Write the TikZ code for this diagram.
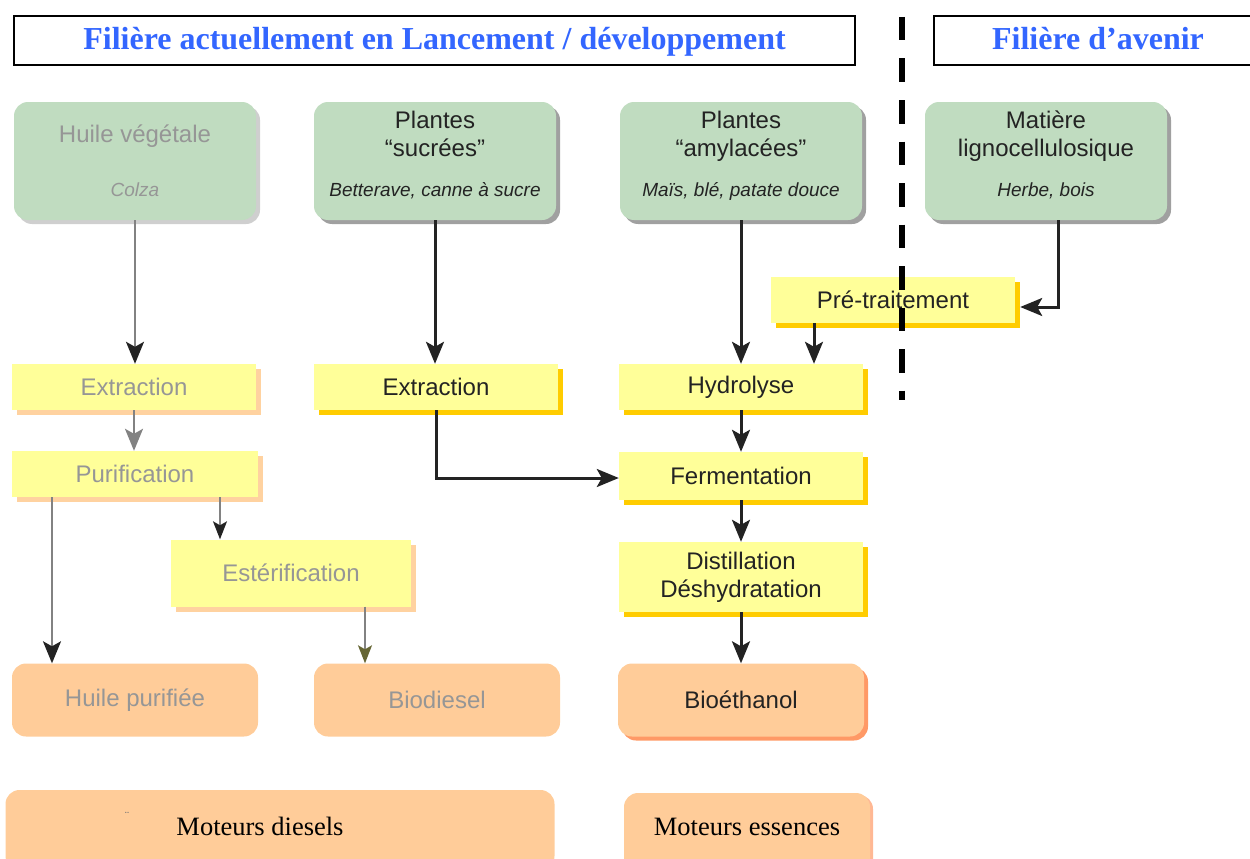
\documentclass[tikz,border=0pt]{standalone}
\usepackage{fontspec}
\setmainfont{Liberation Serif}
\setsansfont{Liberation Sans}
\usetikzlibrary{arrows.meta,shadows}
\definecolor{vert}{RGB}{192,220,192}
\definecolor{jaune}{RGB}{255,255,153}
\definecolor{peche}{RGB}{255,204,153}
\definecolor{ombreor}{RGB}{255,204,0}
\definecolor{ombrepale}{RGB}{255,210,160}
\definecolor{ombrepeche}{RGB}{255,153,102}
\definecolor{ombregrise}{RGB}{160,160,160}
\definecolor{bleutitre}{RGB}{51,102,255}
\definecolor{gristexte}{RGB}{150,150,150}
\definecolor{gristrait}{RGB}{130,130,130}
\definecolor{texte}{RGB}{35,35,35}
\definecolor{pointeolive}{RGB}{102,102,51}
\tikzset{
  boite/.style={align=center, text=texte, inner sep=2pt,
    font=\sffamily\fontsize{24}{28}\selectfont},
  plantebase/.style={boite, rounded corners=14pt, fill=vert,
    minimum width=242pt, minimum height=118pt},
  plante/.style={plantebase, text depth=14pt,
    drop shadow={shadow xshift=4pt,shadow yshift=-4pt,fill=ombregrise,opacity=1}},
  plantegrise/.style={plantebase, text=gristexte,
    drop shadow={shadow xshift=4pt,shadow yshift=-4pt,fill=ombregrise!50,opacity=1}},
  etapebase/.style={boite, fill=jaune, minimum width=244pt, minimum height=46pt},
  etape/.style={etapebase,
    drop shadow={shadow xshift=5pt,shadow yshift=-5pt,fill=ombreor,opacity=1}},
  etapegrise/.style={etapebase, text=gristexte,
    drop shadow={shadow xshift=5pt,shadow yshift=-5pt,fill=ombrepale,opacity=1}},
  produit/.style={boite, rounded corners=14pt, fill=peche,
    minimum width=246pt, minimum height=73pt},
  moteur/.style={produit, font=\fontsize{26.5}{28}\selectfont, text=black},
  titre/.style={draw=black, line width=1.6pt, minimum height=49pt,
    text height=24pt, text depth=5pt,
    font=\bfseries\fontsize{32}{34}\selectfont, text=bleutitre},
  fleche/.style={-{Stealth[length=22pt,width=18pt,inset=5pt]}, line width=3pt, draw=texte},
  flechegrise/.style={-{Stealth[length=22pt,width=18pt,inset=5pt,color=texte]},
    line width=2.2pt, draw=gristrait}
}
\begin{document}
\begin{tikzpicture}[x=1pt,y=-1pt]
	\useasboundingbox (0,0) rectangle (1250,859);
	\node[titre, minimum width=841pt] (titreA) at (434.5,40.5) {Filière actuellement en Lancement / développement};
	\node[titre, minimum width=328pt] (titreB) at (1098,40.5) {Filière d’avenir};

	\node[plantegrise] (huile) at (135,161) {Huile végétale\\[26pt]{\itshape\fontsize{19}{22}\selectfont Colza}};
	\node[plante] (sucre) at (435,161) {Plantes\\“sucrées”\\[12pt]{\itshape\fontsize{19}{22}\selectfont Betterave, canne à sucre}};
	\node[plante] (amyl) at (741,161) {Plantes\\“amylacées”\\[12pt]{\itshape\fontsize{19}{22}\selectfont Maïs, blé, patate douce}};
	\node[plante] (ligno) at (1046,161) {Matière\\lignocellulosique\\[12pt]{\itshape\fontsize{19}{22}\selectfont Herbe, bois}};

	\node[etape] (pretrait) at (893,300) {Pré-traitement};
	\node[etapegrise] (extrA) at (134,387) {Extraction};
	\node[etape] (extrB) at (436,387) {Extraction};
	\node[etape] (hydro) at (741,387) {Hydrolyse};
	\node[etapegrise, minimum width=246pt] (purif) at (135,474) {Purification};
	\node[etape, minimum height=48pt] (ferm) at (741,476) {Fermentation};
	\node[etapegrise, minimum width=240pt, minimum height=67pt] (ester) at (291,573) {Estérification};
	\node[etape, minimum height=70pt] (distil) at (741,577) {Distillation\\Déshydratation};

	\node[produit, text=gristexte] (hpur) at (135,700) {Huile purifiée};
	\node[produit, text=gristexte] (biod) at (437,700) {Biodiesel};
	\node[produit, drop shadow={shadow xshift=4pt,shadow yshift=-4pt,fill=ombrepeche,opacity=1}] (bioeth) at (741,700) {Bioéthanol};

	\node[moteur, minimum width=549pt, minimum height=80pt, text depth=8pt] (diesel) at (280,830) {\hspace*{-40pt}Moteurs diesels};
	\node[moteur, minimum height=80pt, text depth=12pt,
	  drop shadow={shadow xshift=3pt,shadow yshift=-2pt,fill=ombrepeche!70,opacity=1}] (essence) at (747,833) {Moteurs essences};
	\node[text=black!55, font=\fontsize{13}{13}\selectfont] (trema) at (127,816) {¨};

	\draw[flechegrise] (huile.south) -- (huile.south |- extrA.north);
	\draw[fleche] (sucre.south) -- (sucre.south |- extrB.north);
	\draw[fleche] (amyl.south) -- (hydro.north);
	\draw[fleche] ([xshift=12pt]ligno.south) |- ([xshift=5pt,yshift=-7pt]pretrait.east);
	\draw[fleche] ([xshift=-79pt]pretrait.south) -- ([xshift=-79pt]pretrait.south |- hydro.north);

	\draw[flechegrise, -{Stealth[length=22pt,width=18pt,inset=5pt]}] (extrA.south) -- (extrA.south |- purif.north);
	\draw[fleche] (extrB.south) |- ([yshift=-2pt]ferm.west);
	\draw[fleche] (hydro.south) -- (ferm.north);
	\draw[fleche] (ferm.south) -- (distil.north);
	\draw[fleche] (distil.south) -- (bioeth.north);

	\draw[flechegrise] ([xshift=-83pt]purif.south) -- ([xshift=-83pt]purif.south |- hpur.north);
	\draw[flechegrise, line width=1.6pt, -{Stealth[length=18pt,width=14pt,inset=4pt,color=texte]}] ([xshift=85pt]purif.south) -- ([xshift=85pt]purif.south |- ester.north);
	\draw[flechegrise, line width=1.6pt, -{Stealth[length=18pt,width=14pt,inset=4pt,color=pointeolive]}] ([xshift=74pt]ester.south) -- ([xshift=74pt]ester.south |- biod.north);

	\draw[line width=5.5pt, dash pattern=on 23.5pt off 18pt] (902,17) -- (902,400);
\end{tikzpicture}
\end{document}
